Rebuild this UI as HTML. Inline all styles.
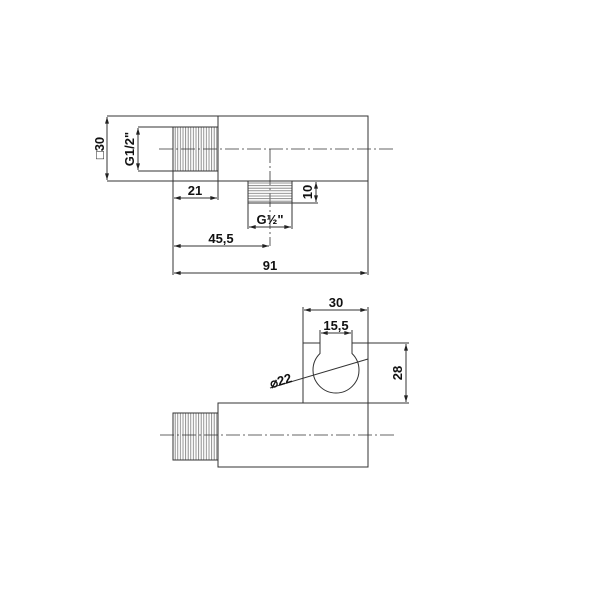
<!DOCTYPE html>
<html><head><style>body{margin:0;background:#fff}svg{display:block}text{font-family:"Liberation Sans",sans-serif;font-weight:bold;font-size:13px;fill:#111}</style></head><body>
<svg width="600" height="600" viewBox="0 0 600 600" xmlns="http://www.w3.org/2000/svg">
<defs>
<pattern id="th" width="2.6" height="10" patternUnits="userSpaceOnUse"><line x1="1" y1="0" x2="1" y2="10" stroke="#777" stroke-width="0.8"/></pattern>
<pattern id="th2" width="10" height="2.6" patternUnits="userSpaceOnUse"><line x1="0" y1="1" x2="10" y2="1" stroke="#777" stroke-width="0.8"/></pattern>
<marker id="a" viewBox="0 0 10 6" refX="10" refY="3" markerWidth="7" markerHeight="4" orient="auto-start-reverse"><path d="M0,0L10,3L0,6z" fill="#222"/></marker>
</defs>
<g stroke="#333" stroke-width="1" fill="none">
<!-- top view -->
<rect x="218" y="116" width="150" height="65"/>
<line x1="107" y1="116" x2="218" y2="116"/><line x1="107" y1="181" x2="218" y2="181"/>
<rect x="173" y="127" width="45" height="44" fill="url(#th)"/>
<line x1="138" y1="127" x2="173" y2="127"/><line x1="138" y1="171" x2="173" y2="171"/>
<line x1="107" y1="117" x2="107" y2="180" marker-start="url(#a)" marker-end="url(#a)"/>
<line x1="138" y1="128" x2="138" y2="170" marker-start="url(#a)" marker-end="url(#a)"/>
<line x1="159" y1="149" x2="395" y2="149" stroke-dasharray="14,3,2,3" stroke-width="0.8"/>
<line x1="270" y1="149" x2="270" y2="246" stroke-dasharray="14,3,2,3" stroke-width="0.8"/>
<rect x="248" y="181" width="44" height="22" fill="url(#th2)"/>
<line x1="292" y1="203" x2="318" y2="203"/>
<line x1="316" y1="182" x2="316" y2="202" marker-start="url(#a)" marker-end="url(#a)"/>
<line x1="248" y1="203" x2="248" y2="229"/><line x1="292" y1="203" x2="292" y2="229"/>
<line x1="249" y1="227" x2="291" y2="227" marker-start="url(#a)" marker-end="url(#a)"/>
<line x1="173" y1="171" x2="173" y2="275"/><line x1="218" y1="181" x2="218" y2="200"/><line x1="368" y1="181" x2="368" y2="275"/>
<line x1="174" y1="198" x2="217" y2="198" marker-start="url(#a)" marker-end="url(#a)"/>
<line x1="174" y1="246" x2="269" y2="246" marker-start="url(#a)" marker-end="url(#a)"/>
<line x1="174" y1="273" x2="367" y2="273" marker-start="url(#a)" marker-end="url(#a)"/>
<!-- side view -->
<rect x="218" y="403" width="150" height="64"/>
<rect x="173" y="413" width="45" height="47" fill="url(#th)"/>
<line x1="160" y1="435" x2="395" y2="435" stroke-dasharray="14,3,2,3" stroke-width="0.8"/>
<path d="M303,403V343H320V353.5A23,23 0 1 0 352,353.5V343H368V403"/>
<line x1="303" y1="343" x2="303" y2="307"/><line x1="368" y1="343" x2="368" y2="307"/>
<line x1="304" y1="310" x2="367" y2="310" marker-start="url(#a)" marker-end="url(#a)"/>
<line x1="320" y1="343" x2="320" y2="330"/><line x1="352" y1="343" x2="352" y2="330"/>
<line x1="321" y1="333" x2="351" y2="333" marker-start="url(#a)" marker-end="url(#a)"/>
<line x1="368" y1="343" x2="409" y2="343"/><line x1="368" y1="403" x2="409" y2="403"/>
<line x1="406" y1="344" x2="406" y2="402" marker-start="url(#a)" marker-end="url(#a)"/>
<line x1="270" y1="388" x2="368" y2="359"/>
</g>
<text x="108" y="148" text-anchor="middle" transform="rotate(-90 108 148)" dy="-4">□30</text>
<text x="138" y="149" text-anchor="middle" transform="rotate(-90 138 149)" dy="-4">G1/2"</text>
<text x="195" y="195" text-anchor="middle">21</text>
<text x="316" y="192" text-anchor="middle" transform="rotate(-90 316 192)" dy="-4">10</text>
<text x="270" y="224" text-anchor="middle">G½"</text>
<text x="221" y="243" text-anchor="middle">45,5</text>
<text x="270" y="270" text-anchor="middle">91</text>
<text x="336" y="307" text-anchor="middle">30</text>
<text x="336" y="330" text-anchor="middle">15,5</text>
<text x="406" y="373" text-anchor="middle" transform="rotate(-90 406 373)" dy="-4">28</text>
<text x="282" y="385" text-anchor="middle" transform="rotate(-17 282 385)">⌀22</text>
</svg>
</body></html>
